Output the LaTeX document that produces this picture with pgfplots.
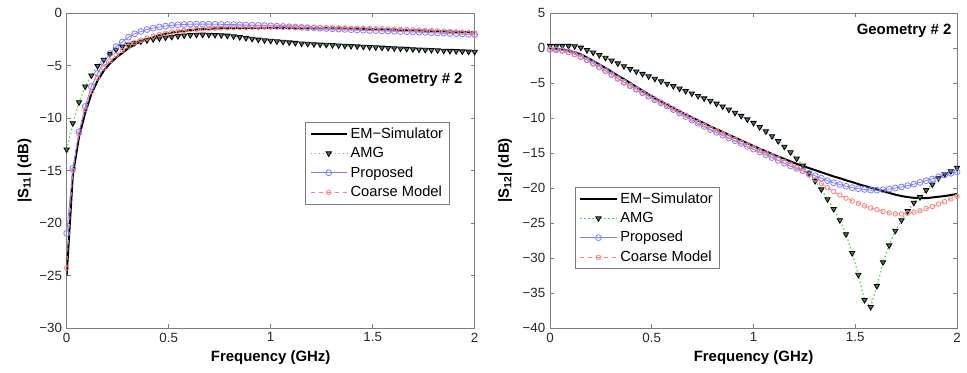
\documentclass[border=0pt]{standalone}
\usepackage{pgfplots}
\pgfplotsset{compat=1.18}
\usepackage{pgfplotstable}
\usepackage{fontspec}
\setmainfont{Liberation Sans}
\definecolor{amggreen}{RGB}{70,220,70}
\definecolor{propblue}{RGB}{125,125,255}
\definecolor{coarsered}{RGB}{255,125,125}
\definecolor{axgray}{RGB}{125,125,125}
\definecolor{amgfill}{RGB}{95,110,95}

\pgfplotstableread{
x em amg prop coarse
0 -25.0 -13.0 -21.0 -24.3
0.0303 -15.4 -10.5 -14.8 -15.0
0.0606 -11.8 -8.5 -11.3 -11.5
0.0909 -9.5 -7.0 -8.9 -9.2
0.1212 -7.7 -5.95 -7.0 -7.5
0.1515 -6.45 -5.05 -5.75 -6.2
0.1818 -5.5 -4.45 -4.7 -5.25
0.2121 -4.8 -3.9 -3.85 -4.55
0.2424 -4.25 -3.5 -3.2 -4.0
0.2727 -3.8 -3.2 -2.75 -3.55
0.3030 -3.35 -3.0 -2.3 -3.15
0.3333 -3.0 -2.85 -1.98 -2.85
0.3636 -2.7 -2.72 -1.76 -2.6
0.3939 -2.5 -2.6 -1.58 -2.4
0.4242 -2.3 -2.5 -1.44 -2.2
0.4545 -2.1 -2.42 -1.33 -2.05
0.4848 -1.97 -2.34 -1.24 -1.92
0.5152 -1.87 -2.27 -1.17 -1.82
0.5455 -1.78 -2.2 -1.12 -1.73
0.5758 -1.7 -2.14 -1.09 -1.66
0.6061 -1.63 -2.1 -1.07 -1.6
0.6364 -1.57 -2.07 -1.06 -1.55
0.6667 -1.53 -2.06 -1.06 -1.51
0.6970 -1.5 -2.07 -1.06 -1.48
0.7273 -1.47 -2.09 -1.07 -1.45
0.7576 -1.45 -2.12 -1.08 -1.43
0.7879 -1.44 -2.16 -1.09 -1.41
0.8182 -1.43 -2.22 -1.1 -1.4
0.8485 -1.42 -2.3 -1.12 -1.39
0.8788 -1.42 -2.38 -1.14 -1.38
0.9091 -1.42 -2.46 -1.16 -1.37
0.9394 -1.42 -2.54 -1.18 -1.37
0.9697 -1.42 -2.6 -1.2 -1.36
1.0 -1.42 -2.65 -1.22 -1.36
1.0303 -1.42 -2.7 -1.25 -1.36
1.0606 -1.42 -2.75 -1.28 -1.36
1.0909 -1.42 -2.8 -1.31 -1.36
1.1212 -1.42 -2.85 -1.34 -1.37
1.1515 -1.42 -2.9 -1.37 -1.37
1.1818 -1.42 -2.94 -1.4 -1.38
1.2121 -1.43 -2.97 -1.42 -1.38
1.2424 -1.44 -3.0 -1.45 -1.39
1.2727 -1.45 -3.03 -1.48 -1.4
1.3030 -1.46 -3.06 -1.5 -1.41
1.3333 -1.47 -3.09 -1.53 -1.42
1.3636 -1.48 -3.12 -1.56 -1.43
1.3939 -1.49 -3.15 -1.59 -1.44
1.4242 -1.5 -3.18 -1.61 -1.45
1.4545 -1.51 -3.21 -1.64 -1.46
1.4848 -1.52 -3.24 -1.66 -1.47
1.5152 -1.53 -3.27 -1.68 -1.49
1.5455 -1.55 -3.3 -1.7 -1.5
1.5758 -1.57 -3.33 -1.72 -1.52
1.6061 -1.59 -3.36 -1.74 -1.54
1.6364 -1.61 -3.39 -1.76 -1.56
1.6667 -1.63 -3.42 -1.78 -1.58
1.6970 -1.65 -3.45 -1.8 -1.6
1.7273 -1.67 -3.48 -1.82 -1.62
1.7576 -1.69 -3.51 -1.84 -1.65
1.7879 -1.71 -3.53 -1.87 -1.67
1.8182 -1.73 -3.56 -1.9 -1.7
1.8485 -1.75 -3.59 -1.92 -1.73
1.8788 -1.77 -3.61 -1.95 -1.76
1.9091 -1.79 -3.63 -1.97 -1.79
1.9394 -1.81 -3.66 -2.0 -1.82
1.9697 -1.83 -3.68 -2.03 -1.86
2.0 -1.85 -3.7 -2.06 -1.9
}\leftdata

\pgfplotstableread{
x em amg prop coarse
0 -0.1 0.3 -0.2 -0.2
0.0303 -0.15 0.3 -0.25 -0.25
0.0606 -0.25 0.3 -0.35 -0.4
0.0909 -0.4 0.3 -0.55 -0.6
0.1212 -0.6 0.25 -0.85 -0.9
0.1515 -0.9 0.05 -1.25 -1.3
0.1818 -1.35 -0.3 -1.7 -1.75
0.2121 -1.85 -0.65 -2.2 -2.25
0.2424 -2.35 -1.0 -2.7 -2.75
0.2727 -2.85 -1.4 -3.25 -3.3
0.3030 -3.4 -1.8 -3.8 -3.85
0.3333 -3.95 -2.2 -4.35 -4.4
0.3636 -4.45 -2.6 -4.9 -4.9
0.3939 -5.0 -3.0 -5.4 -5.4
0.4242 -5.55 -3.35 -5.9 -5.9
0.4545 -6.1 -3.7 -6.4 -6.4
0.4848 -6.6 -4.05 -6.9 -6.85
0.5152 -7.15 -4.4 -7.4 -7.3
0.5455 -7.65 -4.75 -7.85 -7.75
0.5758 -8.1 -5.1 -8.3 -8.2
0.6061 -8.6 -5.45 -8.8 -8.7
0.6364 -9.05 -5.8 -9.3 -9.15
0.6667 -9.5 -6.15 -9.8 -9.6
0.6970 -9.9 -6.5 -10.3 -10.15
0.7273 -10.35 -6.85 -10.75 -10.6
0.7576 -10.75 -7.2 -11.2 -11.0
0.7879 -11.2 -7.55 -11.65 -11.45
0.8182 -11.6 -7.95 -12.05 -11.85
0.8485 -12.0 -8.35 -12.45 -12.25
0.8788 -12.4 -8.8 -12.85 -12.65
0.9091 -12.8 -9.25 -13.25 -13.05
0.9394 -13.2 -9.7 -13.65 -13.45
0.9697 -13.6 -10.2 -14.05 -13.85
1.0 -14.0 -10.7 -14.45 -14.25
1.0303 -14.4 -11.3 -14.85 -14.65
1.0606 -14.75 -11.9 -15.25 -15.0
1.0909 -15.15 -12.6 -15.65 -15.4
1.1212 -15.5 -13.3 -16.05 -15.8
1.1515 -15.85 -14.1 -16.45 -16.2
1.1818 -16.2 -14.9 -16.85 -16.6
1.2121 -16.55 -15.8 -17.2 -17.05
1.2424 -16.85 -16.8 -17.55 -17.6
1.2727 -17.15 -17.9 -17.9 -18.15
1.3030 -17.45 -19.0 -18.25 -18.75
1.3333 -17.75 -20.2 -18.6 -19.35
1.3636 -18.05 -21.6 -18.95 -19.95
1.3939 -18.35 -23.0 -19.25 -20.5
1.4242 -18.6 -24.6 -19.5 -21.0
1.4545 -18.9 -26.6 -19.75 -21.45
1.4848 -19.15 -29.3 -19.95 -21.85
1.5152 -19.45 -32.4 -20.1 -22.2
1.5455 -19.7 -36.0 -20.2 -22.55
1.5758 -19.95 -37.0 -20.3 -22.85
1.6061 -20.2 -34.0 -20.3 -23.1
1.6364 -20.45 -30.6 -20.25 -23.35
1.6667 -20.7 -28.2 -20.15 -23.55
1.6970 -20.95 -26.1 -20.0 -23.7
1.7273 -21.15 -24.6 -19.85 -23.72
1.7576 -21.3 -23.3 -19.65 -23.6
1.7879 -21.4 -22.1 -19.45 -23.45
1.8182 -21.45 -21.3 -19.2 -23.25
1.8485 -21.45 -20.3 -18.95 -22.95
1.8788 -21.35 -19.5 -18.7 -22.65
1.9091 -21.25 -18.6 -18.4 -22.3
1.9394 -21.15 -18.0 -18.15 -21.95
1.9697 -21.0 -17.6 -17.9 -21.55
2.0 -20.85 -17.1 -17.7 -21.2
}\rightdata

\pgfplotsset{
  matlabstyle/.style={
    scale only axis,
    height=236.25pt,
    xmin=0, xmax=2,
    axis line style={axgray, line width=0.6pt},
    every tick/.style={axgray, line width=0.5pt},
    tick align=inside,
    major tick length=3pt,
    xtick={0,0.5,1,1.5,2},
    xticklabels={0,0.5,1,1.5,2},
    tick label style={font=\fontsize{10}{12}\selectfont, text=black!85},
    label style={font=\fontsize{11.2}{13}\selectfont\bfseries},
    xlabel={Frequency (GHz)},
    x label style={at={(axis description cs:0.5,-0.095)}, anchor=center},
    legend cell align=left,
    legend style={font=\fontsize{11}{13}\selectfont, draw=axgray, line width=0.6pt,
      inner xsep=3pt, inner ysep=2pt, row sep=1.2pt},
    legend image code/.code={\draw[mark repeat=2,mark phase=2] plot coordinates {(0cm,0cm) (0.48cm,0cm) (0.96cm,0cm)};},
  },
  emstyle/.style={black, line width=1.5pt, mark=none},
  amgstyle/.style={amggreen, dotted, line width=1pt, mark=triangle*, mark size=2.3pt,
    mark options={solid, rotate=180, draw=black, fill=amgfill, line width=0.6pt}},
  propstyle/.style={propblue, line width=0.6pt, mark=o, mark size=2.2pt, mark options={solid}},
  coarsestyle/.style={coarsered, dashed, line width=0.6pt, mark=o, mark size=1.7pt, mark options={solid}},
}

\begin{document}
\begin{tikzpicture}
\path[use as bounding box] (0,0) rectangle (725.25pt,279pt);

\begin{axis}[matlabstyle,
  at={(50pt,33pt)}, anchor=south west,
  width=306pt,
  ymin=-30, ymax=0,
  ytick={-30,-25,-20,-15,-10,-5,0},
  yticklabels={−30,−25,−20,−15,−10,−5,0},
  ylabel={|S\textsubscript{11}| (dB)},
  y label style={at={(axis description cs:-0.103,0.5)}, anchor=center},
  legend style={at={(0.94,0.654)}, anchor=north east},
]
\addplot[emstyle] table[x=x,y=em]{\leftdata};
\addlegendentry{EM−Simulator}
\addplot[amgstyle] table[x=x,y=amg]{\leftdata};
\addlegendentry{AMG}
\addplot[propstyle] table[x=x,y=prop]{\leftdata};
\addlegendentry{Proposed}
\addplot[coarsestyle] table[x=x,y=coarse]{\leftdata};
\addlegendentry{Coarse Model}
\node[anchor=east, font=\fontsize{11.2}{13}\selectfont\bfseries, inner sep=0pt] at (axis description cs:0.971,0.787) {Geometry \# 2};
\end{axis}

\begin{axis}[matlabstyle,
  at={(412.5pt,33pt)}, anchor=south west,
  width=305.25pt,
  ymin=-40, ymax=5,
  ytick={-40,-35,-30,-25,-20,-15,-10,-5,0,5},
  yticklabels={−40,−35,−30,−25,−20,−15,−10,−5,0,5},
  ylabel={|S\textsubscript{12}| (dB)},
  y label style={at={(axis description cs:-0.11,0.5)}, anchor=center},
  legend style={at={(0.061,0.448)}, anchor=north west},
]
\addplot[emstyle] table[x=x,y=em]{\rightdata};
\addlegendentry{EM−Simulator}
\addplot[amgstyle] table[x=x,y=amg]{\rightdata};
\addlegendentry{AMG}
\addplot[propstyle] table[x=x,y=prop]{\rightdata};
\addlegendentry{Proposed}
\addplot[coarsestyle] table[x=x,y=coarse]{\rightdata};
\addlegendentry{Coarse Model}
\node[anchor=east, font=\fontsize{11.2}{13}\selectfont\bfseries, inner sep=0pt] at (axis description cs:0.987,0.944) {Geometry \# 2};
\end{axis}
\end{tikzpicture}
\end{document}
